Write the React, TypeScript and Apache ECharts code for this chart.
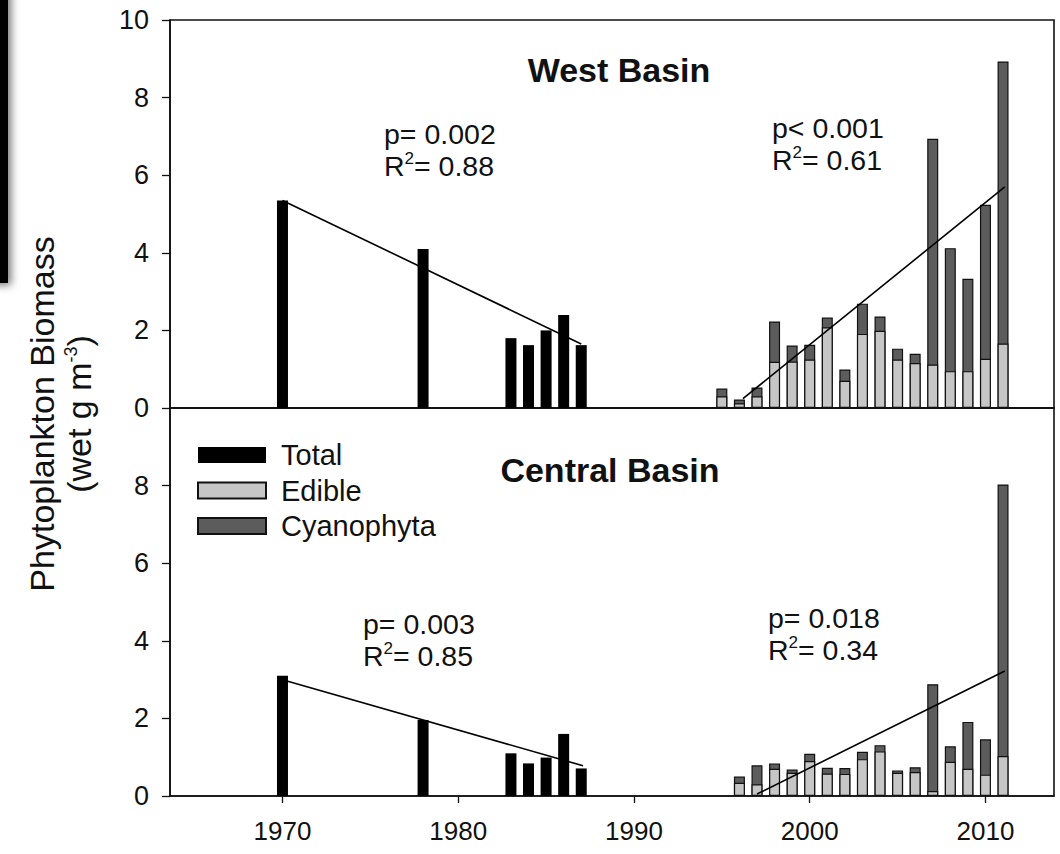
import React, { useEffect, useRef } from "react";
import * as echarts from "echarts";

// ---------- data ----------
const earlyYears = [1970, 1978, 1983, 1984, 1985, 1986, 1987];
const westEarlyTotal = [5.35, 4.1, 1.8, 1.62, 2.0, 2.4, 1.62];
const centralEarlyTotal = [3.1, 1.96, 1.1, 0.84, 0.99, 1.6, 0.71];

// recent years: bar top (edible + cyanophyta) and edible part
const westRecentYears = [1995, 1996, 1997, 1998, 1999, 2000, 2001, 2002, 2003, 2004, 2005, 2006, 2007, 2008, 2009, 2010, 2011];
const westRecentTop = [0.5, 0.22, 0.53, 2.23, 1.61, 1.63, 2.33, 0.99, 2.69, 2.36, 1.53, 1.4, 6.94, 4.12, 3.33, 5.24, 8.93];
const westEdible = [0.3, 0.12, 0.3, 1.19, 1.2, 1.25, 2.08, 0.7, 1.91, 1.99, 1.25, 1.16, 1.12, 0.95, 0.95, 1.27, 1.66];

const centralRecentYears = [1996, 1997, 1998, 1999, 2000, 2001, 2002, 2003, 2004, 2005, 2006, 2007, 2008, 2009, 2010, 2011];
const centralRecentTop = [0.5, 0.79, 0.84, 0.68, 1.09, 0.73, 0.72, 1.14, 1.31, 0.66, 0.74, 2.88, 1.28, 1.91, 1.46, 8.03];
const centralEdible = [0.34, 0.3, 0.7, 0.6, 0.9, 0.58, 0.57, 0.95, 1.15, 0.6, 0.62, 0.13, 0.88, 0.7, 0.55, 1.03];

const westEarlyTrend = [[1970, 5.35], [1987, 1.65]];
const westRecentTrend = [[1996.2, 0.24], [2011.1, 5.7]];
const centralEarlyTrend = [[1970.2, 2.97], [1987.1, 0.78]];
const centralRecentTrend = [[1997, 0.05], [2011.1, 3.22]];

const xTickValues = [1970, 1980, 1990, 2000, 2010];
const xMin = 1963.6;
const xMax = 2013.9;

const legendNames = ["Total", "Edible", "Cyanophyta"];

const westStats = [["p= 0.002", "0.88"], ["p< 0.001", "0.61"]];
const centralStats = [["p= 0.003", "0.85"], ["p= 0.018", "0.34"]];

// ---------- helpers ----------
const zip = (xs: number[], ys: number[]) => xs.map((x, i) => [x, ys[i]]);
const FONT = "'Liberation Sans', Arial, Helvetica, sans-serif";
const EDIBLE_COLOR = "#c6c6c6";
const CYANO_COLOR = "#5c5c5c";

export default function App() {
  const ref = useRef<HTMLDivElement>(null);

  useEffect(() => {
    if (!ref.current) return;
    const chart = echarts.init(ref.current, null, { renderer: "svg" });

    const barBase = { type: "bar", barWidth: 11, barGap: "-100%" };
    const edibleStyle = { color: EDIBLE_COLOR, borderColor: "#111", borderWidth: 1.2 };
    const cyanoStyle = { color: CYANO_COLOR, borderColor: "#111", borderWidth: 1.2 };
    const totalStyle = { color: "#000", borderColor: "#000", borderWidth: 0 };
    const lineBase = {
      type: "line",
      symbol: "none",
      lineStyle: { color: "#000", width: 1.6 },
      z: 5,
      silent: true,
    };

    const yAxisBase = {
      type: "value",
      min: 0,
      max: 10,
      interval: 2,
      axisLine: { show: true, lineStyle: { color: "#111", width: 1.6 } },
      axisTick: { show: true, inside: false, length: 8, lineStyle: { color: "#111", width: 1.3 } },
      axisLabel: { fontSize: 27, color: "#111", fontFamily: FONT, margin: 21 },
      splitLine: { show: false },
    };

    const statText = (x: number, y: number, s: string[]) => ({
      type: "text",
      x,
      y,
      style: {
        text: `${s[0]}\nR{sup|2}= ${s[1]}`,
        font: `28.5px ${FONT}`,
        fill: "#111",
        lineHeight: 32,
        textAlign: "left",
        textVerticalAlign: "top",
        rich: {
          sup: { fontSize: 17, fontFamily: FONT, verticalAlign: "top", lineHeight: 22, fill: "#111" },
        },
      },
    });

    const option: any = {
      animation: false,
      backgroundColor: "#fff",
      grid: [
        { left: 170, top: 20, width: 884, height: 388, show: true, borderColor: "#111", borderWidth: 1.6, backgroundColor: "transparent" },
        { left: 170, top: 408, width: 884, height: 388, show: true, borderColor: "#111", borderWidth: 1.6, backgroundColor: "transparent" },
      ],
      xAxis: [
        {
          type: "value",
          gridIndex: 0,
          min: xMin,
          max: xMax,
          axisLine: { show: true, lineStyle: { color: "#111", width: 1.6 } },
          axisTick: { show: false },
          axisLabel: { show: false },
          splitLine: { show: false },
        },
        {
          type: "value",
          gridIndex: 1,
          min: xMin,
          max: xMax,
          axisLine: { show: true, lineStyle: { color: "#111", width: 1.6 } },
          axisTick: { show: true, inside: false, length: 7, customValues: xTickValues, lineStyle: { color: "#111", width: 1.3 } },
          axisLabel: {
            show: true,
            customValues: xTickValues,
            formatter: (v: number) => String(v),
            fontSize: 26,
            color: "#111",
            fontFamily: FONT,
            margin: 22,
          },
          splitLine: { show: false },
        },
      ],
      yAxis: [
        { ...yAxisBase, gridIndex: 0 },
        { ...yAxisBase, gridIndex: 1, axisLabel: { ...yAxisBase.axisLabel, showMaxLabel: false } },
      ],
      legend: {
        show: true,
        orient: "vertical",
        left: 197,
        top: 440,
        padding: 0,
        itemWidth: 68,
        itemHeight: 16,
        itemGap: 5.5,
        icon: "rect",
        data: legendNames,
        textStyle: { fontSize: 29, lineHeight: 30, color: "#111", fontFamily: FONT, padding: [0, 0, 0, 10] },
        selectedMode: false,
      },
      series: [
        { ...barBase, name: "Total", xAxisIndex: 0, yAxisIndex: 0, data: zip(earlyYears, westEarlyTotal), itemStyle: totalStyle },
        { ...barBase, name: "Cyanophyta", xAxisIndex: 0, yAxisIndex: 0, data: zip(westRecentYears, westRecentTop), itemStyle: cyanoStyle, z: 2 },
        { ...barBase, name: "Edible", xAxisIndex: 0, yAxisIndex: 0, data: zip(westRecentYears, westEdible), itemStyle: edibleStyle, z: 3 },
        { ...barBase, name: "Total", xAxisIndex: 1, yAxisIndex: 1, data: zip(earlyYears, centralEarlyTotal), itemStyle: totalStyle },
        { ...barBase, name: "Cyanophyta", xAxisIndex: 1, yAxisIndex: 1, data: zip(centralRecentYears, centralRecentTop), itemStyle: cyanoStyle, z: 2 },
        { ...barBase, name: "Edible", xAxisIndex: 1, yAxisIndex: 1, data: zip(centralRecentYears, centralEdible), itemStyle: edibleStyle, z: 3 },
        { ...lineBase, name: "trendW1", xAxisIndex: 0, yAxisIndex: 0, data: westEarlyTrend },
        { ...lineBase, name: "trendW2", xAxisIndex: 0, yAxisIndex: 0, data: westRecentTrend },
        { ...lineBase, name: "trendC1", xAxisIndex: 1, yAxisIndex: 1, data: centralEarlyTrend },
        { ...lineBase, name: "trendC2", xAxisIndex: 1, yAxisIndex: 1, data: centralRecentTrend },
      ],
      graphic: [
        {
          type: "rect",
          shape: { x: -20, y: -20, width: 28, height: 303 },
          style: { fill: "#000", shadowBlur: 8, shadowColor: "rgba(0,0,0,0.55)", shadowOffsetX: 3, shadowOffsetY: 2 },
        },
        {
          type: "text",
          x: 619,
          y: 70,
          style: { text: "West Basin", font: `bold 34px ${FONT}`, fill: "#111", textAlign: "center", textVerticalAlign: "middle" },
        },
        {
          type: "text",
          x: 610,
          y: 470,
          style: { text: "Central Basin", font: `bold 34px ${FONT}`, fill: "#111", textAlign: "center", textVerticalAlign: "middle" },
        },
        statText(384, 118, westStats[0]),
        statText(772, 112, westStats[1]),
        statText(363, 608, centralStats[0]),
        statText(768, 602, centralStats[1]),
        {
          type: "text",
          x: 42,
          y: 414,
          rotation: Math.PI / 2,
          style: { text: "Phytoplankton Biomass", font: `34px ${FONT}`, fill: "#111", textAlign: "center", textVerticalAlign: "middle" },
        },
        {
          type: "text",
          x: 79,
          y: 414,
          rotation: Math.PI / 2,
          style: {
            text: "(wet g m{sup|-3})",
            font: `34px ${FONT}`,
            fill: "#111",
            textAlign: "center",
            textVerticalAlign: "middle",
            rich: { sup: { fontSize: 18, fontFamily: FONT, verticalAlign: "top", lineHeight: 20, fill: "#111" } },
          },
        },
      ],
    };

    chart.setOption(option);
    return () => chart.dispose();
  }, []);

  return (
    <div
      ref={ref}
      style={{ position: "fixed", left: 0, top: 0, width: 1060, height: 854, background: "#fff" }}
    />
  );
}
